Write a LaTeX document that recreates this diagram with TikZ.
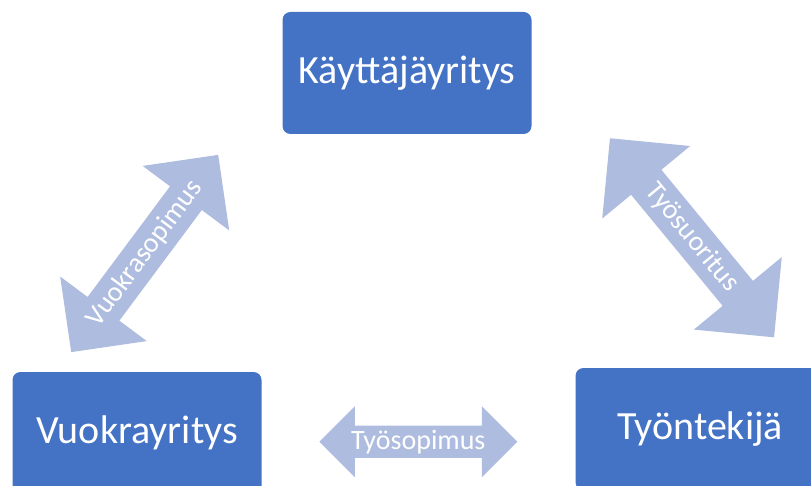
\documentclass[tikz,border=0pt]{standalone}
\usepackage{fontspec}
\setmainfont{Carlito}
\usetikzlibrary{shapes.arrows}
\definecolor{boxblue}{HTML}{4472C4}
\definecolor{arrowblue}{HTML}{AEBCDF}

\begin{document}
\begin{tikzpicture}[x=1pt,y=-1pt,
	party/.style={fill=boxblue,rounded corners=8pt,minimum width=249pt,minimum height=122pt,
		text=white,font=\fontsize{40}{42}\selectfont},
	deal/.style={double arrow,fill=arrowblue,double arrow tip angle=90,inner sep=0pt,
		text=white,font=\fontsize{28}{30}\selectfont}]
	
	\useasboundingbox (0,0) rectangle (811,486);
	\clip (0,0) rectangle (811,486);
	
	\node[party] (user) at (407,73) {Käyttäjäyritys};
	\node[party] (agency) at (137,433) {Vuokrayritys};
	\node[party] (worker) at (700,429) {Työntekijä};
	
	\node[deal,rotate=53.3,minimum height=246pt,minimum width=108pt,double arrow head extend=21pt]
		(lease) at (144.7,253.5) {Vuokrasopimus};
	\node[deal,rotate=-50.5,minimum height=258pt,minimum width=114pt,double arrow head extend=23pt]
		(work) at (692,237.8) {Työsuoritus};
	\node[deal,minimum height=198pt,minimum width=71pt,double arrow head extend=14.5pt]
		(contract) at (418.3,441.7) {Työsopimus};
	
\end{tikzpicture}
\end{document}
